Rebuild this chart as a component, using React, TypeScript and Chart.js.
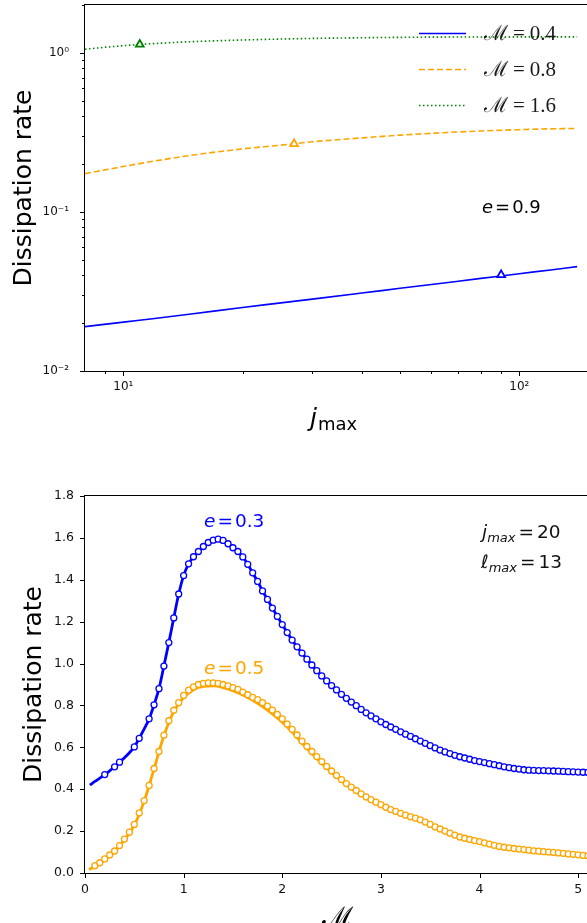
import React, { useEffect, useRef } from "react";
import { Chart, registerables } from "chart.js";

Chart.register(...registerables);
Chart.defaults.font.family = "'DejaVu Sans', sans-serif";

// ---------------- top chart (log-log) ----------------
const jMax = [8, 10, 12, 15, 20, 25, 30, 40, 50, 60, 80, 100, 120, 140];
const rateM04 = [0.019, 0.0203, 0.0214, 0.0229, 0.0251, 0.0268, 0.0283, 0.0309, 0.0331, 0.035, 0.0382, 0.0409, 0.0432, 0.0453];
const rateM08 = [0.174, 0.193, 0.209, 0.228, 0.249, 0.263, 0.276, 0.292, 0.304, 0.312, 0.323, 0.329, 0.333, 0.335];
const rateM16 = [1.055, 1.11, 1.145, 1.177, 1.205, 1.222, 1.233, 1.245, 1.252, 1.256, 1.259, 1.26, 1.26, 1.26];
const markerJ = [90, 27, 11];
const markerRate = [0.0402, 0.268, 1.13];
const topLegendM = ["0.4", "0.8", "1.6"];
const topXMajor = [10, 100];
const topXLabels = ["10¹", "10²"];
const topXMinor = [9, 20, 30, 40, 50, 60, 70, 80, 90];
const topYMajor = [0.01, 0.1, 1];
const topYLabels = ["10⁻²", "10⁻¹", "10⁰"];
const topYMinor = [0.02, 0.03, 0.04, 0.05, 0.06, 0.07, 0.08, 0.09, 0.2, 0.3, 0.4, 0.5, 0.6, 0.7, 0.8, 0.9, 2];

// ---------------- bottom chart ----------------
const machGrid = [
  0.05, 0.1, 0.15, 0.2, 0.25, 0.3, 0.35, 0.4, 0.45, 0.5, 0.55, 0.6, 0.65, 0.7, 0.75, 0.8, 0.85, 0.9, 0.95, 1.0,
  1.05, 1.1, 1.15, 1.2, 1.25, 1.3, 1.35, 1.4, 1.45, 1.5, 1.55, 1.6, 1.65, 1.7, 1.75, 1.8, 1.85, 1.9, 1.95, 2.0,
  2.05, 2.1, 2.15, 2.2, 2.25, 2.3, 2.35, 2.4, 2.45, 2.5, 2.55, 2.6, 2.65, 2.7, 2.75, 2.8, 2.85, 2.9, 2.95, 3.0,
  3.05, 3.1, 3.15, 3.2, 3.25, 3.3, 3.35, 3.4, 3.45, 3.5, 3.55, 3.6, 3.65, 3.7, 3.75, 3.8, 3.85, 3.9, 3.95, 4.0,
  4.05, 4.1, 4.15, 4.2, 4.25, 4.3, 4.35, 4.4, 4.45, 4.5, 4.55, 4.6, 4.65, 4.7, 4.75, 4.8, 4.85, 4.9, 4.95, 5.0,
  5.05, 5.1, 5.15,
];
const rateE03 = [
  0.42, 0.437, 0.453, 0.47, 0.488, 0.507, 0.529, 0.55, 0.574, 0.602, 0.643, 0.688, 0.736, 0.803, 0.88, 0.988, 1.1, 1.218, 1.332, 1.42,
  1.476, 1.51, 1.535, 1.559, 1.578, 1.589, 1.594, 1.588, 1.572, 1.553, 1.535, 1.509, 1.474, 1.433, 1.392, 1.347, 1.306, 1.265, 1.225, 1.186,
  1.148, 1.112, 1.08, 1.05, 1.021, 0.993, 0.966, 0.941, 0.917, 0.895, 0.874, 0.853, 0.834, 0.816, 0.799, 0.781, 0.765, 0.75, 0.736, 0.722,
  0.709, 0.697, 0.686, 0.674, 0.663, 0.652, 0.641, 0.63, 0.619, 0.608, 0.597, 0.587, 0.578, 0.57, 0.562, 0.555, 0.549, 0.543, 0.537, 0.532,
  0.527, 0.522, 0.517, 0.512, 0.507, 0.503, 0.499, 0.496, 0.493, 0.491, 0.49, 0.489, 0.489, 0.488, 0.487, 0.486, 0.485, 0.484, 0.483, 0.482,
  0.481, 0.48, 0.479,
];
const sparseMarkersE03 = [0.2, 0.3, 0.35, 0.5, 0.55, 0.65];
const markerRateE05 = [
  0.02, 0.035, 0.049, 0.067, 0.086, 0.105, 0.131, 0.162, 0.195, 0.232, 0.287, 0.346, 0.418, 0.499, 0.58, 0.658, 0.727, 0.777, 0.813, 0.848,
  0.873, 0.889, 0.9, 0.905, 0.908, 0.908, 0.905, 0.9, 0.893, 0.885, 0.877, 0.864, 0.851, 0.839, 0.828, 0.813, 0.797, 0.778, 0.757, 0.736,
  0.711, 0.686, 0.659, 0.63, 0.604, 0.58, 0.556, 0.532, 0.509, 0.487, 0.466, 0.446, 0.427, 0.41, 0.394, 0.378, 0.363, 0.35, 0.338, 0.326,
  0.314, 0.303, 0.294, 0.285, 0.276, 0.268, 0.262, 0.254, 0.243, 0.232, 0.22, 0.21, 0.2, 0.19, 0.181, 0.172, 0.166, 0.16, 0.155, 0.15,
  0.144, 0.138, 0.132, 0.127, 0.123, 0.12, 0.117, 0.114, 0.112, 0.109, 0.106, 0.104, 0.102, 0.1, 0.098, 0.096, 0.094, 0.091, 0.089, 0.087,
  0.084, 0.082, 0.08,
];
const lineMachE05 = [0.04, 0.1, 0.2, 0.3, 0.4, 0.5, 0.6, 0.7, 0.8, 0.9, 1.0, 1.1, 1.2, 1.3, 1.4, 1.5, 1.6, 1.7, 1.8, 1.9, 2.0, 2.1, 2.2, 2.3, 2.4, 2.5, 2.6, 2.7, 2.8, 2.9, 3.0, 3.2, 3.4, 3.6, 3.8, 4.0, 4.2, 4.4, 4.6, 4.8, 5.0, 5.2];
const lineRateE05 = [0.016, 0.032, 0.064, 0.102, 0.158, 0.228, 0.343, 0.497, 0.655, 0.77, 0.838, 0.875, 0.891, 0.893, 0.885, 0.87, 0.85, 0.825, 0.795, 0.76, 0.72, 0.673, 0.62, 0.57, 0.523, 0.48, 0.44, 0.404, 0.372, 0.344, 0.32, 0.28, 0.248, 0.206, 0.169, 0.146, 0.124, 0.111, 0.101, 0.093, 0.085, 0.078];
const botXTicks = [0, 1, 2, 3, 4, 5];
const botYTicks = [0, 0.2, 0.4, 0.6, 0.8, 1.0, 1.2, 1.4, 1.6, 1.8];

const BLUE = "#0000ff";
const ORANGE = "#ffa500";
const GREEN = "#008000";

type Piece = { t: string; font: string; dy?: number; gap?: number };
function drawPieces(ctx: CanvasRenderingContext2D, pieces: Piece[], x: number, y: number, color: string) {
  let cx = x;
  ctx.fillStyle = color;
  ctx.textAlign = "left";
  ctx.textBaseline = "alphabetic";
  for (const p of pieces) {
    ctx.font = p.font;
    cx += p.gap || 0;
    ctx.fillText(p.t, cx, y + (p.dy || 0));
    cx += ctx.measureText(p.t).width;
  }
}

function decor(xMajor: number[], xMinor: number[], yMajor: number[], yMinor: number[], extra: (ctx: CanvasRenderingContext2D, chart: any) => void) {
  return {
    id: "decor",
    afterDraw(chart: any) {
      const { ctx, chartArea: a, scales } = chart;
      ctx.save();
      ctx.strokeStyle = "#000";
      ctx.lineWidth = 1;
      ctx.setLineDash([]);
      ctx.strokeRect(a.left - 0.5, a.top - 0.5, a.right - a.left + 1, a.bottom - a.top + 1);
      const seg = (x1: number, y1: number, x2: number, y2: number) => {
        ctx.beginPath();
        ctx.moveTo(x1, y1);
        ctx.lineTo(x2, y2);
        ctx.stroke();
      };
      for (const v of xMajor) {
        const x = Math.round(scales.x.getPixelForValue(v)) + 0.5;
        seg(x, a.bottom, x, a.bottom + 5);
      }
      for (const v of xMinor) {
        const x = Math.round(scales.x.getPixelForValue(v)) + 0.5;
        seg(x, a.bottom, x, a.bottom + 3);
      }
      for (const v of yMajor) {
        const y = Math.round(scales.y.getPixelForValue(v)) + 0.5;
        seg(a.left - 5, y, a.left, y);
      }
      for (const v of yMinor) {
        const y = Math.round(scales.y.getPixelForValue(v)) + 0.5;
        seg(a.left - 3, y, a.left, y);
      }
      extra(ctx, chart);
      ctx.restore();
    },
  };
}

function App() {
  const topRef = useRef<HTMLCanvasElement | null>(null);
  const botRef = useRef<HTMLCanvasElement | null>(null);

  useEffect(() => {
    const pts = (xs: number[], ys: number[]) => xs.map((x, i) => ({ x, y: ys[i] }));
    const lineDs = (label: string, data: any[], color: string, dash: number[]) => ({
      label,
      data,
      showLine: true,
      borderColor: color,
      backgroundColor: color,
      borderWidth: 1.6,
      borderDash: dash,
      pointRadius: 0,
      fill: false,
      cubicInterpolationMode: "monotone",
    });
    const triDs = (i: number, color: string) => ({
      label: "marker" + i,
      data: [{ x: markerJ[i], y: markerRate[i] }],
      showLine: false,
      pointStyle: "triangle",
      pointRadius: 4.5,
      pointBorderWidth: 1.8,
      pointBorderColor: color,
      pointBackgroundColor: "#ffffff",
    });
    const topColors = [BLUE, ORANGE, GREEN];
    const topDashes = [[], [6, 3], [1.5, 2.5]];

    const topChart = new Chart(topRef.current as HTMLCanvasElement, {
      type: "scatter",
      data: {
        datasets: [
          triDs(0, BLUE),
          triDs(1, ORANGE),
          triDs(2, GREEN),
          lineDs("ℳ = " + topLegendM[0], pts(jMax, rateM04), BLUE, topDashes[0]),
          lineDs("ℳ = " + topLegendM[1], pts(jMax, rateM08), ORANGE, topDashes[1]),
          lineDs("ℳ = " + topLegendM[2], pts(jMax, rateM16), GREEN, topDashes[2]),
        ] as any,
      },
      options: {
        animation: false,
        responsive: false,
        events: [],
        layout: { padding: { top: 5, left: 0, right: 11, bottom: 0 }, autoPadding: false } as any,
        plugins: { legend: { display: false }, tooltip: { enabled: false } },
        scales: {
          x: {
            type: "logarithmic",
            min: 8,
            max: 150,
            afterBuildTicks: (s: any) => {
              s.ticks = topXMajor.map((v) => ({ value: v }));
            },
            afterFit: (s: any) => {
              s.height = 89;
              s.paddingLeft = 0;
              s.paddingRight = 0;
            },
            grid: { display: false, drawTicks: false },
            border: { display: false },
            ticks: {
              autoSkip: false,
              maxRotation: 0,
              padding: 9,
              color: "#111",
              font: { size: 12 },
              callback: (v: any) => {
                const i = topXMajor.indexOf(Number(v));
                return i >= 0 ? topXLabels[i] : "";
              },
            },
          },
          y: {
            type: "logarithmic",
            min: 0.01,
            max: 2,
            afterBuildTicks: (s: any) => {
              s.ticks = topYMajor.map((v) => ({ value: v }));
            },
            afterFit: (s: any) => {
              s.width = 85;
              s.paddingTop = 0;
              s.paddingBottom = 0;
            },
            grid: { display: false, drawTicks: false },
            border: { display: false },
            ticks: {
              autoSkip: false,
              padding: 16,
              color: "#111",
              font: { size: 12 },
              callback: (v: any) => {
                const i = topYMajor.findIndex((m) => Math.abs(m - Number(v)) < 1e-9);
                return i >= 0 ? topYLabels[i] : "";
              },
            },
          },
        },
      },
      plugins: [
        decor(topXMajor, topXMinor, topYMajor, topYMinor, (ctx) => {
          // y title
          ctx.save();
          ctx.translate(31, 188);
          ctx.rotate(-Math.PI / 2);
          ctx.font = "25px 'DejaVu Sans'";
          ctx.fillStyle = "#000";
          ctx.textAlign = "center";
          ctx.textBaseline = "alphabetic";
          ctx.fillText("Dissipation rate", 0, 0);
          ctx.restore();
          // x title j_max
          drawPieces(ctx, [
            { t: "j", font: "italic 25px 'DejaVu Sans'" },
            { t: "max", font: "18px 'DejaVu Sans'", dy: 4, gap: 1 },
          ], 310, 426, "#000");
          // legend
          const serif = "21px 'Liberation Serif', 'DejaVu Serif', serif";
          for (let i = 0; i < topLegendM.length; i++) {
            const y = 33 + i * 36;
            ctx.save();
            ctx.strokeStyle = topColors[i];
            ctx.lineWidth = 1.6;
            ctx.setLineDash(topDashes[i]);
            ctx.beginPath();
            ctx.moveTo(419, y + 0.5);
            ctx.lineTo(466, y + 0.5);
            ctx.stroke();
            ctx.restore();
            drawPieces(ctx, [
              { t: "ℳ", font: serif },
              { t: "=", font: serif, gap: 5 },
              { t: topLegendM[i], font: serif, gap: 5 },
            ], 484, 40 + i * 36, "#1a1a1a");
          }
          // annotation
          drawPieces(ctx, [
            { t: "e", font: "italic 18px 'DejaVu Sans'" },
            { t: "=", font: "18px 'DejaVu Sans'", gap: 2 },
            { t: "0.9", font: "18px 'DejaVu Sans'", gap: 2 },
          ], 482, 213, "#000");
        }),
      ],
    });

    const blueMarkers = pts(machGrid, rateE03).filter((p) => p.x >= 0.7 || sparseMarkersE03.includes(p.x));
    const orangeMarkers = pts(machGrid, markerRateE05).filter((p) => p.x >= 0.1);
    const markerDs = (data: any[], color: string) => ({
      label: "m",
      data,
      showLine: false,
      order: 1,
      pointStyle: "circle",
      pointRadius: 3,
      pointBorderWidth: 1.3,
      pointBorderColor: color,
      pointBackgroundColor: "#ffffff",
    });
    const solidDs = (data: any[], color: string) => ({
      label: "l",
      data,
      showLine: true,
      order: 2,
      borderColor: color,
      borderWidth: 2.8,
      pointRadius: 0,
      fill: false,
      cubicInterpolationMode: "monotone",
    });

    const botChart = new Chart(botRef.current as HTMLCanvasElement, {
      type: "scatter",
      data: {
        datasets: [
          markerDs(blueMarkers, BLUE),
          solidDs(pts(machGrid, rateE03), BLUE),
          markerDs(orangeMarkers, ORANGE),
          solidDs(pts(lineMachE05, lineRateE05), ORANGE),
        ] as any,
      },
      options: {
        animation: false,
        responsive: false,
        events: [],
        layout: { padding: { top: 36, left: 0, right: 10, bottom: 0 }, autoPadding: false } as any,
        plugins: { legend: { display: false }, tooltip: { enabled: false } },
        scales: {
          x: {
            type: "linear",
            min: 0,
            max: 5.12,
            afterBuildTicks: (s: any) => {
              s.ticks = botXTicks.map((v) => ({ value: v }));
            },
            afterFit: (s: any) => {
              s.height = 50;
              s.paddingLeft = 0;
              s.paddingRight = 0;
            },
            grid: { display: false, drawTicks: false },
            border: { display: false },
            ticks: {
              autoSkip: false,
              maxRotation: 0,
              padding: 9,
              color: "#111",
              font: { size: 12.5 },
              callback: (v: any) => String(Math.round(Number(v))),
            },
          },
          y: {
            type: "linear",
            min: 0,
            max: 1.8,
            afterBuildTicks: (s: any) => {
              s.ticks = botYTicks.map((v) => ({ value: v }));
            },
            afterFit: (s: any) => {
              s.width = 85;
              s.paddingTop = 0;
              s.paddingBottom = 0;
            },
            grid: { display: false, drawTicks: false },
            border: { display: false },
            ticks: {
              autoSkip: false,
              padding: 11,
              color: "#111",
              font: { size: 12.5 },
              callback: (v: any) => Number(v).toFixed(1),
            },
          },
        },
      },
      plugins: [
        decor(botXTicks, [], botYTicks, [], (ctx) => {
          ctx.save();
          ctx.translate(41, 224.5);
          ctx.rotate(-Math.PI / 2);
          ctx.font = "25px 'DejaVu Sans'";
          ctx.fillStyle = "#000";
          ctx.textAlign = "center";
          ctx.textBaseline = "alphabetic";
          ctx.fillText("Dissipation rate", 0, 0);
          ctx.restore();
          // x title
          ctx.font = "27px 'Liberation Serif', 'DejaVu Serif', serif";
          ctx.fillStyle = "#000";
          ctx.textAlign = "center";
          ctx.textBaseline = "alphabetic";
          ctx.fillText("ℳ", 337, 466);
          // annotations
          const it = "italic 18.5px 'DejaVu Sans'";
          const rm = "18.5px 'DejaVu Sans'";
          const sub = "italic 13px 'DejaVu Sans'";
          drawPieces(ctx, [{ t: "e", font: it }, { t: "=", font: rm, gap: 2 }, { t: "0.3", font: rm, gap: 2 }], 204, 66.7, BLUE);
          drawPieces(ctx, [{ t: "e", font: it }, { t: "=", font: rm, gap: 2 }, { t: "0.5", font: rm, gap: 2 }], 204, 213.5, ORANGE);
          drawPieces(ctx, [{ t: "j", font: it }, { t: "max", font: sub, dy: 4 }, { t: "=", font: rm, gap: 3 }, { t: "20", font: rm, gap: 3 }], 482, 77.7, "#111");
          drawPieces(ctx, [{ t: "ℓ", font: it }, { t: "max", font: sub, dy: 4 }, { t: "=", font: rm, gap: 3 }, { t: "13", font: rm, gap: 3 }], 481, 107.7, "#111");
        }),
      ],
    });

    return () => {
      topChart.destroy();
      botChart.destroy();
    };
  }, []);

  return (
    <div style={{ position: "fixed", left: 0, top: 0, width: 587, height: 923, overflow: "hidden", background: "#fff" }}>
      <canvas ref={topRef} width={600} height={460} style={{ position: "absolute", left: 0, top: 0, width: 600, height: 460 }} />
      <canvas ref={botRef} width={600} height={463} style={{ position: "absolute", left: 0, top: 460, width: 600, height: 463 }} />
    </div>
  );
}

export default App;
